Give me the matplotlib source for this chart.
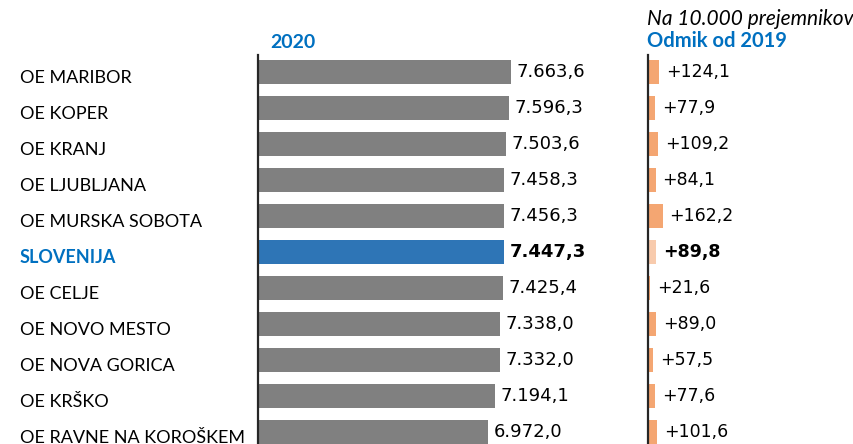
import matplotlib
matplotlib.use('Agg')
import matplotlib.pyplot as plt
import matplotlib.transforms as mtransforms

# data
regions = ['OE MARIBOR', 'OE KOPER', 'OE KRANJ', 'OE LJUBLJANA', 'OE MURSKA SOBOTA',
           'SLOVENIJA', 'OE CELJE', 'OE NOVO MESTO', 'OE NOVA GORICA', 'OE KRŠKO',
           'OE RAVNE NA KOROŠKEM']
values_2020 = [7663.6, 7596.3, 7503.6, 7458.3, 7456.3, 7447.3, 7425.4, 7338.0, 7332.0, 7194.1, 6972.0]
change_2019 = [124.1, 77.9, 109.2, 84.1, 162.2, 89.8, 21.6, 89.0, 57.5, 77.6, 101.6]
total_label = 'SLOVENIJA'

plt.rcParams['font.family'] = ['Lato', 'DejaVu Sans']

W, H = 854, 444
fig = plt.figure(figsize=(W / 100, H / 100), dpi=100)

def px_axes(x0, x1, y0, y1):
    # pixel box (top-left origin) -> figure axes
    return fig.add_axes([x0 / W, 1 - y1 / H, (x1 - x0) / W, (y1 - y0) / H])

ylo, yhi = (444 - 72) / 36, (55 - 72) / 36
idx = list(range(len(regions)))

ax1 = px_axes(258, 555, 55, 444)
ax2 = px_axes(648, 738, 55, 444)

def fmt(v):
    s = '{:,.1f}'.format(v)
    return s.replace(',', 'X').replace('.', ',').replace('X', '.')

blue = '#0070C0'
c1 = ['#2E75B6' if r == total_label else '#808080' for r in regions]
c2 = ['#F8CBAD' if r == total_label else '#F4A672' for r in regions]

ax1.barh(idx, values_2020, height=0.65, color=c1)
ax1.set_xlim(0, 9000)
ax2.barh(idx, change_2019, height=0.65, color=c2)
ax2.set_xlim(0, 1000)

for ax in (ax1, ax2):
    ax.set_ylim(ylo, yhi)
    for s in ['top', 'right', 'bottom']:
        ax.spines[s].set_visible(False)
    ax.spines['left'].set_linewidth(1.6)
    ax.spines['left'].set_color('#262626')
    ax.set_xticks([])
    ax.set_yticks([])
    ax.patch.set_alpha(0)

num_font = ['DejaVu Sans']
tr = mtransforms.blended_transform_factory(fig.transFigure, ax1.transData)
for i, r in enumerate(regions):
    tot = r == total_label
    fig.text(20 / W, i + 0.16, r, transform=tr, va='center', ha='left', fontsize=13,
             color=blue if tot else 'black', fontweight='bold' if tot else 'normal')
    ax1.annotate(fmt(values_2020[i]), (values_2020[i], i), xytext=(4, 0),
                 textcoords='offset points', va='center', ha='left', fontsize=13,
                 family=num_font, fontweight='bold' if tot else 'normal')
    ax2.annotate('+' + fmt(change_2019[i]), (change_2019[i], i), xytext=(5, 0),
                 textcoords='offset points', va='center', ha='left', fontsize=12.5,
                 family=num_font, fontweight='bold' if tot else 'normal')

fig.text(270 / W, 1 - 42 / H, '2020', color=blue, fontsize=14, fontweight='bold', va='center')
fig.text(647 / W, 1 - 41 / H, 'Odmik od 2019', color=blue, fontsize=14.5, fontweight='bold', va='center')
fig.text(647 / W, 1 - 19 / H, 'Na 10.000 prejemnikov', fontsize=15, style='italic', va='center')

fig.savefig('out.png', dpi=100)
